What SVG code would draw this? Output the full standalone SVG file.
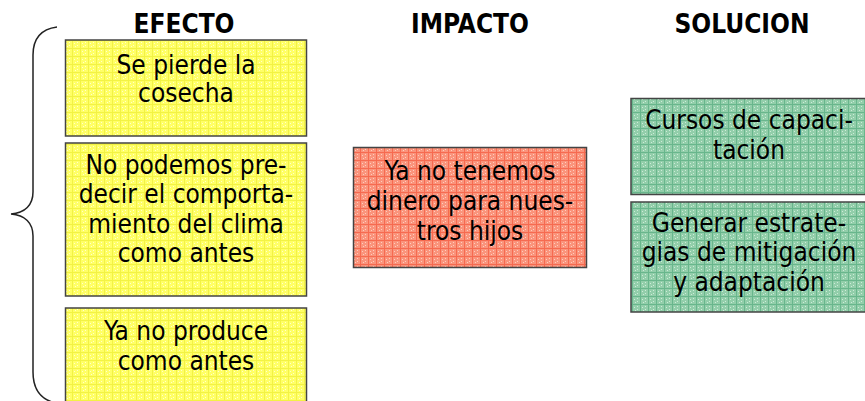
<svg xmlns="http://www.w3.org/2000/svg" width="865" height="401" viewBox="0 0 865 401">
<defs>
<pattern id="py" width="8" height="8" patternUnits="userSpaceOnUse">
<rect width="8" height="8" fill="#FFFF66"/>
<rect width="8" height="1" fill="#F2F244"/>
<rect width="1" height="8" fill="#F2F244"/>
<rect x="2" y="3" width="1" height="1" fill="#FFFFCC"/>
<rect x="5" y="5" width="1" height="1" fill="#FFFFCC"/>
<rect x="5" y="2" width="1" height="1" fill="#FFFFCC"/>
<rect x="3" y="6" width="1" height="1" fill="#FFFFCC"/>
</pattern>
<pattern id="pr" width="8" height="8" patternUnits="userSpaceOnUse">
<rect width="8" height="8" fill="#FA947C"/>
<rect width="8" height="1" fill="#F66A50"/>
<rect width="1" height="8" fill="#F66A50"/>
<rect x="2" y="3" width="1" height="1" fill="#FFCCBE"/>
<rect x="5" y="5" width="1" height="1" fill="#FFCCBE"/>
<rect x="5" y="2" width="1" height="1" fill="#FFCCBE"/>
<rect x="3" y="6" width="1" height="1" fill="#FFCCBE"/>
</pattern>
<pattern id="pg" width="8" height="8" patternUnits="userSpaceOnUse">
<rect width="8" height="8" fill="#92CEAA"/>
<rect width="8" height="1" fill="#68B68C"/>
<rect width="1" height="8" fill="#68B68C"/>
<rect x="2" y="3" width="1" height="1" fill="#CCECD8"/>
<rect x="5" y="5" width="1" height="1" fill="#CCECD8"/>
<rect x="5" y="2" width="1" height="1" fill="#CCECD8"/>
<rect x="3" y="6" width="1" height="1" fill="#CCECD8"/>
</pattern>
</defs>
<style>
.t{font-family:"DejaVu Sans Condensed","DejaVu Sans",sans-serif;font-size:26px;fill:#000;text-anchor:middle}
.h{font-family:"DejaVu Sans Condensed","DejaVu Sans",sans-serif;font-size:26px;font-weight:bold;fill:#000;text-anchor:middle}
.box{stroke:#444;stroke-width:1.5}
.y{fill:url(#py)}
.r{fill:url(#pr)}
.g{fill:url(#pg)}
</style>
<rect width="865" height="401" fill="#fff"/>
<g id="titles">
<text class="h" x="184" y="33">EFECTO</text>
<text class="h" x="470" y="33">IMPACTO</text>
<text class="h" x="742" y="33">SOLUCION</text>
</g>
<g id="connectors">
<path d="M57,27 C42,29 33,38 33,55 L33,192 C33,205 25,213 11,214 C25,215 33,223 33,236 L33,372 C33,388 40,398 52,402" fill="none" stroke="#222" stroke-width="1.5"/>
</g>
<g id="e1">
<rect class="box y" x="65.5" y="40" width="241" height="96"/>
<text class="t" x="186" y="74">Se pierde la</text>
<text class="t" x="186" y="102">cosecha</text>
</g>
<g id="e2">
<rect class="box y" x="65.5" y="143" width="241" height="153"/>
<text class="t" x="186" y="173.5">No podemos pre-</text>
<text class="t" x="186" y="203">decir el comporta-</text>
<text class="t" x="186" y="232.5">miento del clima</text>
<text class="t" x="186" y="262">como antes</text>
</g>
<g id="e3">
<rect class="box y" x="65.5" y="308" width="241" height="100"/>
<text class="t" x="186" y="339.5">Ya no produce</text>
<text class="t" x="186" y="369.5">como antes</text>
</g>
<g id="i1">
<rect class="box r" x="353.5" y="147.5" width="233" height="120"/>
<text class="t" x="470" y="180">Ya no tenemos</text>
<text class="t" x="470" y="210">dinero para nues-</text>
<text class="t" x="470" y="239.5">tros hijos</text>
</g>
<g id="s1">
<rect class="box g" x="631" y="98.5" width="241" height="96"/>
<text class="t" x="749" y="128.5">Cursos de capaci-</text>
<text class="t" x="749" y="159">tación</text>
</g>
<g id="s2">
<rect class="box g" x="631" y="202" width="241" height="110"/>
<text class="t" x="749" y="231.5">Generar estrate-</text>
<text class="t" x="749" y="261">gias de mitigación</text>
<text class="t" x="749" y="290.5">y adaptación</text>
</g>
</svg>
